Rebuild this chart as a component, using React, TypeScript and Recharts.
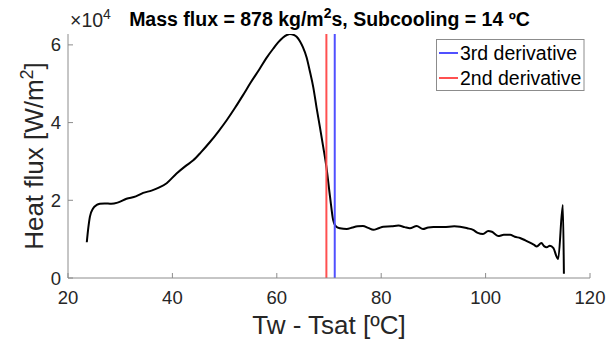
import React from 'react';
import { LineChart, Line, XAxis, YAxis, ReferenceLine } from 'recharts';

// Tw - Tsat [ºC]
const tw = [
  23.6, 23.9, 24.2, 24.8, 25.5, 26.1, 27.0, 28.3, 29.5, 31.2, 33.0, 34.4, 36.0, 37.5, 38.9,
  40.8, 42.5, 44.0, 45.5, 47.2, 48.8, 50.4, 52.0, 53.5, 55.0, 56.7, 58.0, 59.3, 60.3, 61.2,
  62.0, 62.5, 63.2, 63.8, 64.4, 65.0, 65.7, 66.3, 67.0, 67.6, 68.3, 68.9, 69.5, 70.2, 70.8,
  71.4, 72.1, 73.4, 74.5, 75.5, 76.5, 77.5, 78.5, 79.5, 80.4, 82.0, 83.3, 84.5, 85.5, 86.8,
  88.0, 89.0, 90.0, 92.0, 94.0, 95.1, 96.5, 97.6, 98.5, 99.5, 100.5, 101.2, 102.4, 103.5, 104.7,
  105.6, 106.6, 107.6, 108.5, 109.3, 109.8, 110.7, 111.2, 111.7, 112.3, 113.0, 113.6, 113.9, 114.8, 115.0,
];
// Heat flux [x10^4 W/m^2]
const heatFlux = [
  0.92, 1.3, 1.58, 1.79, 1.88, 1.91, 1.92, 1.91, 1.94, 2.04, 2.1, 2.19, 2.25, 2.33, 2.44,
  2.69, 2.88, 3.03, 3.24, 3.5, 3.77, 4.06, 4.38, 4.7, 5.03, 5.38, 5.66, 5.9, 6.07, 6.19,
  6.26, 6.28, 6.26, 6.21, 6.1, 5.94, 5.68, 5.34, 4.9, 4.4, 3.85, 3.37, 2.86, 2.09, 1.49,
  1.32, 1.28, 1.26, 1.3, 1.33, 1.34, 1.29, 1.24, 1.28, 1.32, 1.33, 1.35, 1.31, 1.28, 1.34,
  1.26, 1.3, 1.31, 1.31, 1.33, 1.32, 1.28, 1.24, 1.16, 1.13, 1.21, 1.19, 1.08, 1.11, 1.11,
  1.06, 1.03, 0.97, 0.91, 0.85, 0.81, 0.9, 0.82, 0.79, 0.83, 0.77, 0.55, 0.49, 1.88, 0.11,
];
const xTicks = [20, 40, 60, 80, 100, 120];
const yTicks = [0, 2, 4, 6];
const thirdDerivativeX = 71.1;
const secondDerivativeX = 69.5;
const legendLabels = ['3rd derivative', '2nd derivative'];
const legendColors = ['#5050ff', '#ff5050'];
const titleParts = ['Mass flux = 878 kg/m', '2', 's, Subcooling = 14 ºC'];
const xLabel = 'Tw - Tsat [ºC]';
const yLabelParts = ['Heat flux [W/m', '2', ']'];

const data = tw.map((x, i) => ({ x, q: heatFlux[i] }));

const FONT = '"Liberation Sans", Arial, Helvetica, sans-serif';
const TXT = '#262626';
const AX = '#8c8c8c';

export default function App() {
  return (
    <div style={{ position: 'absolute', left: 0, top: 0, width: 616, height: 344, background: '#fff' }}>
      <LineChart
        width={616}
        height={344}
        data={data}
        margin={{ top: 34, right: 26, bottom: 36, left: 8 }}
      >
        <XAxis
          xAxisId="b"
          dataKey="x"
          type="number"
          domain={[20, 120]}
          ticks={xTicks}
          interval={0}
          allowDataOverflow
          height={30}
          tickSize={-5}
          tickMargin={18}
          stroke={AX}
          tick={{ fill: TXT, fontSize: 18.5, fontFamily: FONT }}
        />
        <XAxis
          xAxisId="t"
          orientation="top"
          dataKey="x"
          type="number"
          domain={[20, 120]}
          ticks={xTicks}
          interval={0}
          allowDataOverflow
          height={0}
          tickSize={-5}
          stroke={AX}
          tickFormatter={() => ''}
        />
        <YAxis
          yAxisId="l"
          type="number"
          domain={[0, 6.28]}
          ticks={yTicks}
          interval={0}
          allowDataOverflow
          width={60}
          tickSize={-5}
          tickMargin={12}
          stroke={AX}
          tick={{ fill: TXT, fontSize: 18.5, fontFamily: FONT }}
        />
        <YAxis
          yAxisId="r"
          orientation="right"
          type="number"
          domain={[0, 6.28]}
          ticks={yTicks}
          interval={0}
          allowDataOverflow
          width={0}
          tickSize={-5}
          stroke="#b5b5b5"
          tickFormatter={() => ''}
        />
        <Line
          xAxisId="b"
          yAxisId="l"
          dataKey="q"
          type="monotone"
          stroke="#000"
          strokeWidth={2}
          dot={false}
          isAnimationActive={false}
        />
        <ReferenceLine xAxisId="b" yAxisId="l" x={secondDerivativeX} stroke={legendColors[1]} strokeWidth={2} />
        <ReferenceLine xAxisId="b" yAxisId="l" x={thirdDerivativeX} stroke={legendColors[0]} strokeWidth={2} />
      </LineChart>
      <svg
        width={616}
        height={344}
        style={{ position: 'absolute', left: 0, top: 0, pointerEvents: 'none' }}
        fontFamily={FONT}
      >
        <text x={70} y={27} fill={TXT} fontSize={19.5}>
          ×10<tspan fontSize={14} dy={-8}>4</tspan>
        </text>
        <text x={329.5} y={26} fill="#000" fontSize={19.5} fontWeight="bold" textAnchor="middle">
          {titleParts[0]}
          <tspan fontSize={14} dy={-8}>{titleParts[1]}</tspan>
          <tspan dy={8}>{titleParts[2]}</tspan>
        </text>
        <text x={329} y={334} fill={TXT} fontSize={26} textAnchor="middle">
          {xLabel}
        </text>
        <text
          x={0}
          y={0}
          fill={TXT}
          fontSize={26}
          textAnchor="middle"
          transform="translate(43,156) rotate(-90)"
        >
          {yLabelParts[0]}
          <tspan fontSize={18} dy={-10}>{yLabelParts[1]}</tspan>
          <tspan dy={10}>{yLabelParts[2]}</tspan>
        </text>
        <rect x={436.5} y={39.5} width={147.5} height={51} fill="#fff" stroke="#8c8c8c" strokeWidth={1} />
        {legendLabels.map((lab, i) => (
          <g key={lab}>
            <line x1={439} x2={458} y1={53 + i * 25} y2={53 + i * 25} stroke={legendColors[i]} strokeWidth={2} />
            <text x={460} y={60 + i * 25} fill="#000" fontSize={19.5}>
              {lab}
            </text>
          </g>
        ))}
      </svg>
    </div>
  );
}
